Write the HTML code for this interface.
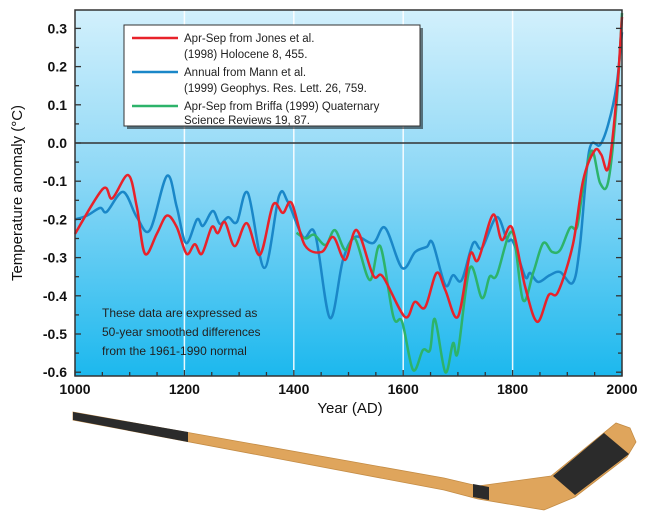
<!DOCTYPE html>
<html><head><meta charset="utf-8">
<style>
body{margin:0;background:#fff;width:646px;height:511px;overflow:hidden;font-family:"Liberation Sans",sans-serif;}
svg text{font-family:"Liberation Sans",sans-serif;}
</style></head>
<body>
<svg id="chart" width="646" height="511" viewBox="0 0 646 511">
<defs>
<linearGradient id="bg" x1="0" y1="0" x2="0" y2="1">
<stop offset="0" stop-color="#d2f0fc"/>
<stop offset="0.45" stop-color="#8ed8f6"/>
<stop offset="1" stop-color="#1cb8ee"/>
</linearGradient>
</defs>
<rect x="75" y="10" width="547" height="366" fill="url(#bg)"/>
<g id="grid"></g>
<g id="series"></g>
<g id="axes"></g>
<g>
<rect x="127" y="28" width="296" height="101" fill="#000" opacity="0.5"/>
<rect x="124" y="25" width="296" height="101" fill="#fff" stroke="#333" stroke-width="1"/>
<g>
<line x1="132" y1="38" x2="178" y2="38" stroke="#e8222a" stroke-width="2.5"/>
<text x="184" y="42" font-size="11.5" fill="#222">Apr-Sep from Jones et al.</text>
<text x="184" y="58" font-size="11.5" fill="#222">(1998) Holocene 8, 455.</text>
</g>
<g>
<line x1="132" y1="72" x2="178" y2="72" stroke="#1a87c8" stroke-width="2.5"/>
<text x="184" y="76" font-size="11.5" fill="#222">Annual from Mann et al.</text>
<text x="184" y="92" font-size="11.5" fill="#222">(1999) Geophys. Res. Lett. 26, 759.</text>
</g>
<g>
<line x1="132" y1="106" x2="178" y2="106" stroke="#2db36a" stroke-width="2.5"/>
<text x="184" y="110" font-size="11.5" fill="#222">Apr-Sep from Briffa (1999) Quaternary</text>
<text x="184" y="124" font-size="11.5" fill="#222">Science Reviews 19, 87.</text>
</g>
</g>
<g font-size="12" fill="#222">
<text x="102" y="317">These data are expressed as</text>
<text x="102" y="336">50-year smoothed differences</text>
<text x="102" y="355">from the 1961-1990 normal</text>
</g>
<text x="350" y="413" font-size="15" text-anchor="middle" fill="#111">Year (AD)</text>
<text transform="translate(22,193) rotate(-90)" font-size="15" text-anchor="middle" fill="#111">Temperature anomaly (°C)</text>
<g>
<polygon points="73,412 444,478 478,486 551,476 616,423 630,428 636,442 627,457 575,497 544,510 478,499 444,490 73,420" fill="#dfa55c" stroke="#c48c45" stroke-width="0.8"/>
<polygon points="73,412 188,432 188,442 73,420" fill="#2b2b2b"/>
<polygon points="473,484 489,487 489,500 473,497" fill="#2b2b2b"/>
<polygon points="553,476 604,433 629,454 575,495" fill="#2b2b2b"/>
</g>
</svg>
<script>
const ticksX=[1000,1200,1400,1600,1800,2000];
const ticksY=[0.3,0.2,0.1,0.0,-0.1,-0.2,-0.3,-0.4,-0.5,-0.6];
const jonesYears=[1000,1051,1068,1097,1113,1128,1150,1168,1186,1204,1219,1232,1250,1261,1274,1292,1314,1338,1362,1380,1396,1420,1451,1472,1494,1515,1545,1563,1603,1621,1640,1661,1677,1700,1722,1737,1764,1780,1799,1823,1845,1866,1883,1910,1929,1950,1962,1975,1990,2000];
const jonesVals=[-0.238,-0.12,-0.145,-0.084,-0.167,-0.29,-0.236,-0.19,-0.22,-0.29,-0.265,-0.29,-0.22,-0.236,-0.207,-0.27,-0.21,-0.293,-0.162,-0.183,-0.157,-0.267,-0.285,-0.246,-0.306,-0.228,-0.346,-0.35,-0.455,-0.416,-0.43,-0.34,-0.385,-0.455,-0.293,-0.306,-0.188,-0.254,-0.222,-0.377,-0.468,-0.398,-0.39,-0.267,-0.097,-0.02,-0.03,-0.065,0.12,0.33];
const mannYears=[1000,1022,1046,1058,1088,1113,1137,1168,1186,1203,1223,1234,1252,1265,1280,1296,1316,1346,1373,1389,1417,1439,1466,1490,1512,1545,1567,1598,1622,1643,1654,1677,1691,1707,1728,1744,1771,1790,1801,1823,1832,1847,1868,1887,1910,1923,1940,1960,1975,1990,2000];
const mannVals=[-0.2,-0.19,-0.17,-0.18,-0.128,-0.194,-0.228,-0.086,-0.167,-0.262,-0.2,-0.217,-0.178,-0.212,-0.194,-0.207,-0.131,-0.327,-0.139,-0.154,-0.246,-0.238,-0.458,-0.306,-0.246,-0.262,-0.222,-0.327,-0.285,-0.272,-0.262,-0.372,-0.346,-0.359,-0.262,-0.275,-0.194,-0.254,-0.259,-0.35,-0.34,-0.364,-0.346,-0.338,-0.366,-0.27,-0.02,-0.005,0.05,0.15,0.29];
const briffaYears=[1405,1422,1437,1458,1475,1494,1512,1539,1558,1582,1598,1618,1636,1649,1658,1677,1691,1700,1722,1744,1758,1771,1799,1819,1838,1856,1872,1887,1905,1918,1929,1945,1960,1975,1990,2000];
const briffaVals=[-0.235,-0.25,-0.24,-0.267,-0.228,-0.28,-0.25,-0.359,-0.27,-0.455,-0.468,-0.594,-0.542,-0.542,-0.461,-0.6,-0.524,-0.547,-0.327,-0.406,-0.35,-0.346,-0.233,-0.411,-0.338,-0.262,-0.285,-0.28,-0.222,-0.22,-0.115,-0.02,-0.105,-0.1,0.1,0.34];

const NS='http://www.w3.org/2000/svg';
const X0=75,X1=622,Y0=143,PER=382;
function xs(yr){return X0+(yr-1000)*(X1-X0)/1000;}
function ys(v){return Y0-v*PER;}
function mk(t,a,p){const e=document.createElementNS(NS,t);for(const k in a)e.setAttribute(k,a[k]);p.appendChild(e);return e;}
const grid=document.getElementById('grid'),axes=document.getElementById('axes'),series=document.getElementById('series');
[1200,1400,1600,1800].forEach(function(yr){
 const l=mk('line',{x1:xs(yr),x2:xs(yr),y1:10,y2:376,stroke:'#fff','stroke-width':1.5,opacity:0.9},grid);
 
 
});
function path(years,vals){
 const p=years.map(function(y,i){return [xs(y),ys(vals[i])];});
 let d='M'+p[0][0].toFixed(1)+','+p[0][1].toFixed(1);
 for(let i=0;i<p.length-1;i++){
  const a=p[Math.max(0,i-1)],b=p[i],c=p[i+1],e=p[Math.min(p.length-1,i+2)];
  const c1=[b[0]+(c[0]-a[0])/6,b[1]+(c[1]-a[1])/6],c2=[c[0]-(e[0]-b[0])/6,c[1]-(e[1]-b[1])/6];
  d+=' C'+c1[0].toFixed(1)+','+c1[1].toFixed(1)+' '+c2[0].toFixed(1)+','+c2[1].toFixed(1)+' '+c[0].toFixed(1)+','+c[1].toFixed(1);
 }
 return d;
}
const pm=mk('path',{d:path(mannYears,mannVals),fill:'none',stroke:'#1a87c8','stroke-width':2.5},series);


const pb=mk('path',{d:path(briffaYears,briffaVals),fill:'none',stroke:'#2db36a','stroke-width':2.5},series);


const pj=mk('path',{d:path(jonesYears,jonesVals),fill:'none',stroke:'#e8222a','stroke-width':2.5},series);


const zl=mk('line',{x1:X0,x2:X1,y1:ys(0),y2:ys(0),stroke:'#333','stroke-width':1.5},axes);


const fr=mk('rect',{x:X0,y:10,width:X1-X0,height:366,fill:'none',stroke:'#333','stroke-width':1.5},axes);


for(let v=-0.6;v<=0.3001;v+=0.05){
 const y=ys(v),len=(Math.abs(Math.round(v*100))%10===0)?6:4;
 mk('line',{x1:X0,x2:X0+len,y1:y,y2:y,stroke:'#333','stroke-width':1.3},axes);
 mk('line',{x1:X1-len,x2:X1,y1:y,y2:y,stroke:'#333','stroke-width':1.3},axes);
}
for(let yr=1000;yr<=2000;yr+=50){
 const x=xs(yr),len=(yr%200===0)?6:4;
 mk('line',{x1:x,x2:x,y1:376-len,y2:376,stroke:'#333','stroke-width':1.3},axes);
}
ticksY.forEach(function(v){
 const t=mk('text',{x:X0-8,y:ys(v)+5,'font-size':14,'font-weight':'bold','text-anchor':'end',fill:'#111'},axes);
 
 
 t.textContent=v.toFixed(1);
});
ticksX.forEach(function(yr){
 const t=mk('text',{x:xs(yr),y:394,'font-size':14,'font-weight':'bold','text-anchor':'middle',fill:'#111'},axes);
 
 
 t.textContent=yr;
});
</script>
</body></html>
